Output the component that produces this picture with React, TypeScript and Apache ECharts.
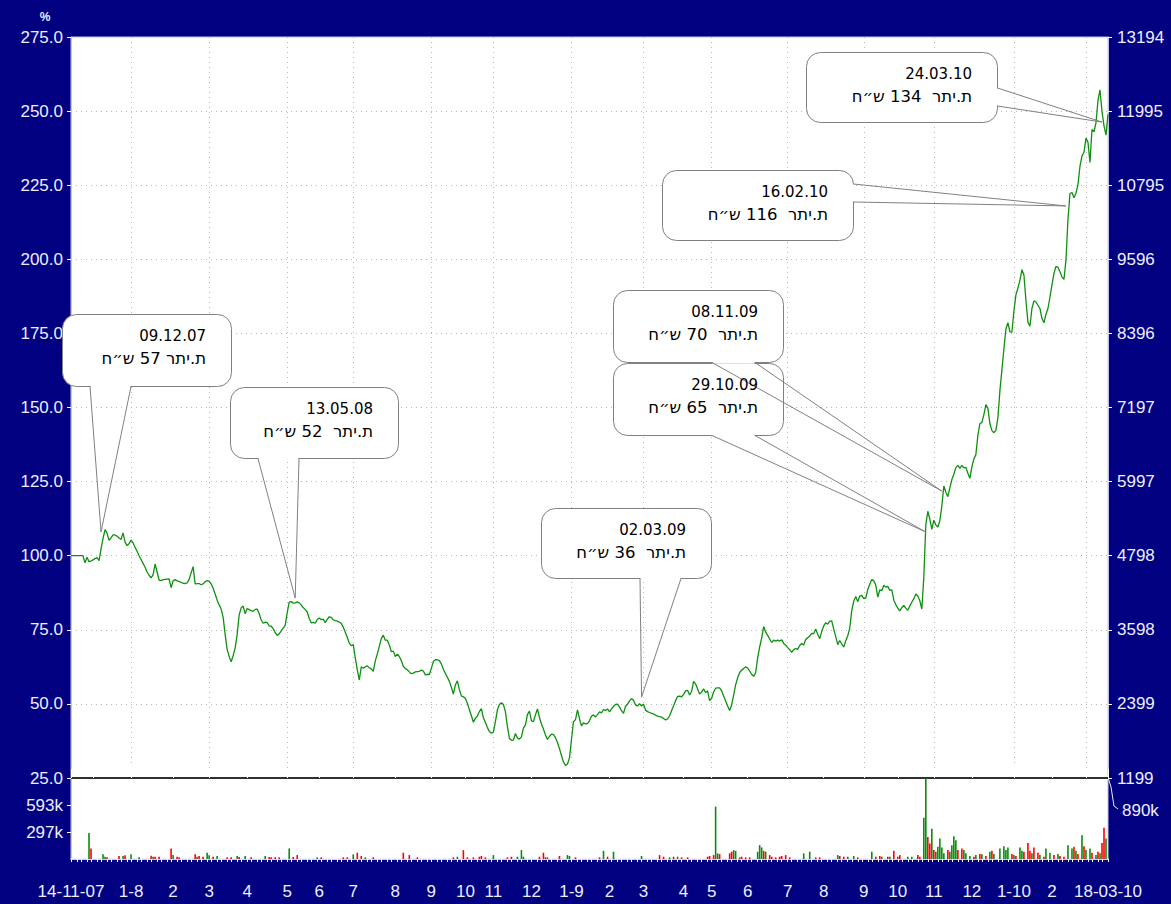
import React, { useEffect, useRef } from 'react';
import * as echarts from 'echarts';

// ---- price index (%), one reading every 2px of the reference, Nov-2007 .. Mar-2010 ----
const priceSeg1 = [100,100,100,100,100,100,100,97.6,99.5,98,98.2,98.6,99,99.4,98.3,102.3,105.8,108.8,107.6,105.2,106,107,107,106.6,106,105.5,107.7,104.6,103.4,104,105.3,104.3,102.8,101.5,100,98.7,97.4,96.1,94.5,93.4,92.5,93.5,97.2,94.5,91.8,91.6,91.9,92,92.1,92.2,89.2,91.5,92,91.5,91.3,91,90.7,90.6,90.8,92,94.2,96.3,90.5,90.6,90.6,90.2,90.5,91.2,91.6,91.4,90.5,89,87.1,85,83.4,82,79.2,73.4,68.4,66,64.2,66.3,68.9,73.4,80,82.4,83,80.4,82.2,81.8,81.5,81.2,81.9,82,80.5,78.3,77.2,77.6,77.4,76.3,76.2,75.4,74,73.1,73.6,74.6,75.6,76.5,80.8,84.3,84.5,84,84.1,84.4,84.1,83.4,82.5,81.8,81,78.8,77.3,77.5,77.2,78.5,79,78.4,78.6,77.4,78.5,79.4];
const priceSeg2 = [79.2,78.4,78.1,77.9,77.6,77.1,75.9,74.2,72.5,70.5,69.6,70,65.5,61.5,58.1,62.5,62,62.5,62.8,62.2,61.8,61,64.5,66.8,69.4,72,73.2,71.5,71.5,69.9,67.6,67.8,66,66.8,66,64.6,62.7,61.9,61.5,60.8,60.2,60.4,60.8,60.9,61,61.4,61.1,59.8,60,59.9,62,64.3,64.9,64.9,64.6,63.5,61.7,60.3,59,57.6,55.6,53.3,56.4,57.8,54.8,52.7,52.4,51.8,50.2,48,46,43.8,45.2,45.9,47.4,48.4,45.3,43.7,42,40.7,40.1,40.5,44,48,49.8,50.4,49.8,47.3,42.3,38.3,37.7,37.8,40,38.5,38.1,38.9,41.8,42.9,46.4,47.6,44.3,44,46.3,48.3,45.4,43.2,41.5,39.5,38,39,39.8,39.6,38.6,37,34.9,32.6,30.4,29.2,29.7,31.8,38,44,44.7,48,45,42.6,43.6,43.2,43.4,44.3];
const priceSeg3 = [45.8,46.3,45.6,46.4,47.3,47,48.1,47.8,48.3,47.3,48.3,49.2,49.8,49.9,48.9,47.7,46.8,49.2,49.9,51,51.8,51.2,49.6,49.3,50.1,49.3,49.9,47.9,47.4,47.1,46.8,46.6,46.2,45.9,45.7,45.5,45.1,44.6,44.9,46,47.7,49.4,51.1,52.5,52.6,52.4,53.2,54.4,54.6,53,54.2,57.6,56.7,55,53.3,54,55.1,53.8,54.4,51.1,51.9,54,55.3,55.4,55.4,54.4,52.7,51,49.3,47.8,49.6,53,56.4,58.8,60.6,61.4,61.9,62.5,62.1,61.1,60,59.3,60.5,65.5,69.2,72.2,76.1,74.2,73.1,71.9,70.7,71.5,71.2,71.5,71.2,71.6,70.4,69.8,69,68.3,67.4,68.3,68.7,68.4,69.7,70.4,69.9,71.7,72.3,72.9,73.8,73.7,75.3,73.5,72,74.4,76.3,77.4,76.9,77.9,78,75.2,72.7,70,71.4,70.2,69.2,71.3,73,75.5];
const priceSeg4 = [81.5,84.7,86.2,84.5,86.4,86.6,85.5,85.7,88.6,90.4,92,91.5,90.1,86,88.5,88.2,90,89.4,89.7,88.3,88.5,85,83.5,82.3,81.4,82.5,83.2,82.3,81.6,83,84.3,85.5,87.1,86.4,84.8,82,92.7,110.5,115,112.3,108.9,112,110.4,109.7,111.8,116.8,123.5,121.4,119.9,122.9,125.7,127.5,129.7,130.5,129.5,130.5,129.6,129.8,127.8,126.1,130,132.6,134.1,140.6,144.6,144.9,147.6,151,149.7,144.6,142.2,141.5,142.3,146.5,155.6,162.7,169.8,176.5,178.6,175.5,175.4,182.5,188,190.3,192.9,196.5,194.7,186.2,178.8,177.4,183.4,186,185.6,184.5,183.4,180.1,178.6,181.4,183.4,187.2,191.4,195.2,197.6,197.3,195.8,194.1,193.2,199.7,213.4,222.2,222.5,220.8,222.3,225.2,231.4,234.8,236.1,240.9,239.5,232.7,243.8,243,246.1,253.6,257.2,249.9,245,241.9,249];
const price = [...priceSeg1, ...priceSeg2, ...priceSeg3, ...priceSeg4];

// base index value: 100% = 4798 points
const baseIndexValue = 4798;

// ---- volume (thousands): [day index, volume] ----
const upVolume = [[9,286],[16,51],[17,25],[26,33],[30,51],[34,18],[41,25],[51,43],[63,25],[68,69],[69,40],[73,33],[83,33],[87,33],[97,33],[109,116],[123,18],[141,51],[147,18],[193,25],[211,43],[223,25],[225,98],[226,25],[237,18],[248,43],[249,33],[266,90],[271,80],[285,33],[299,18],[303,25],[322,575],[323,62],[331,98],[332,90],[343,80],[344,152],[345,127],[347,80],[366,62],[369,80],[383,43],[388,25],[391,33],[400,80],[405,25],[409,25],[418,25],[420,25],[426,452],[427,887],[430,333],[432,80],[433,134],[434,224],[435,127],[436,62],[439,80],[440,152],[441,250],[442,206],[446,98],[447,62],[449,33],[452,43],[455,51],[459,80],[461,54],[464,116],[466,141],[467,98],[468,127],[471,43],[474,127],[475,90],[480,62],[484,43],[487,116],[489,69],[493,54],[498,152],[500,116],[502,90],[505,260],[507,98],[509,116],[512,43],[514,62],[517,224]];
const downVolume = [[10,116],[18,18],[24,33],[27,40],[40,36],[42,25],[44,25],[50,116],[53,25],[54,18],[62,51],[64,33],[66,25],[71,25],[78,18],[80,18],[84,22],[90,18],[99,22],[100,18],[102,18],[104,18],[111,22],[113,43],[125,18],[136,18],[138,18],[143,69],[145,33],[151,18],[166,69],[169,43],[173,18],[191,18],[196,98],[198,18],[201,18],[204,25],[205,33],[207,18],[218,18],[220,25],[234,25],[236,69],[238,18],[244,33],[252,18],[264,18],[268,25],[294,43],[296,25],[301,25],[305,18],[308,18],[318,25],[319,33],[321,43],[324,54],[329,62],[330,80],[334,18],[335,25],[337,18],[339,18],[346,90],[349,43],[350,25],[352,18],[354,25],[355,33],[357,43],[359,18],[372,18],[374,18],[384,33],[386,25],[393,18],[402,25],[404,33],[408,25],[411,90],[413,25],[414,43],[423,43],[424,25],[428,243],[429,170],[431,98],[438,98],[443,98],[445,116],[451,25],[454,54],[457,33],[460,90],[470,54],[472,33],[476,80],[478,177],[479,90],[481,127],[483,69],[486,25],[491,43],[494,33],[496,25],[501,134],[503,54],[506,141],[510,69],[513,80],[515,177],[516,344]];
const volumeMax = 890;

// ---- x-axis: month starts [day index, label, month number] ----
const monthMarks: [number, string, number][] = [
  [11,'',12],[30,'1-8',1],[51,'2',2],[69,'3',3],[88,'4',4],[108,'5',5],[124,'6',6],[141,'7',7],[162,'8',8],[180,'9',9],[197,'10',10],[211,'11',11],[230,'12',12],
  [250,'1-9',1],[269,'2',2],[286,'3',3],[306,'4',4],[320,'5',5],[338,'6',6],[358,'7',7],[376,'8',8],[396,'9',9],[413,'10',10],[431,'11',11],[450,'12',12],
  [471,'1-10',1],[490,'2',2],[507,'',3],
];
const startLabel = '14-11-07';
const endLabel = '18-03-10';

// ---- callouts: [date, text, day index, value pointed at] ----
const callouts: [string, string, number, number][] = [
  ['09.12.07', 'ת.יתר 57 ש״ח', 15, 108],
  ['13.05.08', 'ת.יתר  52 ש״ח', 112, 85.7],
  ['02.03.09', 'ת.יתר  36 ש״ח', 285, 52.3],
  ['29.10.09', 'ת.יתר  65 ש״ח', 427, 108],
  ['08.11.09', 'ת.יתר  70 ש״ח', 435, 121.8],
  ['16.02.10', 'ת.יתר  116 ש״ח', 497, 218],
  ['24.03.10', 'ת.יתר  134 ש״ח', 515, 246.3],
];
const calloutLayout = [
  { x: 62, y: 314, w: 169, h: 72, side: 'bottom', b1: 90, b2: 131 },
  { x: 230, y: 387, w: 168, h: 71, side: 'bottom', b1: 258, b2: 299 },
  { x: 541, y: 508, w: 170, h: 70, side: 'bottom', b1: 640, b2: 681 },
  { x: 613, y: 363, w: 170, h: 72, side: 'bottom', b1: 712, b2: 755 },
  { x: 613, y: 290, w: 170, h: 72, side: 'bottom', b1: 712, b2: 755 },
  { x: 662, y: 170, w: 191, h: 70, side: 'right', b1: 184, b2: 202 },
  { x: 806, y: 52, w: 191, h: 70, side: 'right', b1: 88, b2: 106 },
];

const NAVY = '#000080';
const AXIS_TXT = '#eeeeff';
const AXIS_LINE = '#c0c0ee';
const FONT = '"Liberation Sans", Arial, sans-serif';
const CALLOUT_FONT = '"DejaVu Sans", sans-serif';

export default function App() {
  const ref = useRef<HTMLDivElement>(null);

  useEffect(() => {
    const chart = echarts.init(ref.current!, null, { renderer: 'svg' });
    const cats = price.map((_, i) => String(i));
    const labelMap = new Map<number, string>();
    labelMap.set(0, startLabel);
    monthMarks.forEach(([i, l]) => { if (l) labelMap.set(i, l); });
    labelMap.set(price.length - 1, endLabel);
    const monthSet = new Set<number>(monthMarks.map((m) => m[0]));
    monthSet.add(0);
    monthSet.add(price.length - 1);
    const yearSet = new Set<number>(monthMarks.filter((m) => m[2] === 1).map((m) => m[0]));
    const oddMonthSet = new Set<number>(monthMarks.filter((m) => m[2] % 2 === 1).map((m) => m[0]));
    const minorTick = (i: number) => i === 0 || Math.floor(i / 2.5) !== Math.floor((i - 1) / 2.5);

    const baseX = {
      type: 'category',
      data: cats,
      boundaryGap: false,
    };

    const option: any = {
      animation: false,
      backgroundColor: NAVY,
      grid: [
        { left: 71, top: 37, width: 1037, height: 741, show: true, backgroundColor: '#ffffff', borderColor: AXIS_LINE, borderWidth: 1 },
        { left: 71, top: 778, width: 1037, height: 81, show: true, backgroundColor: '#ffffff', borderColor: AXIS_LINE, borderWidth: 1 },
      ],
      xAxis: [
        {
          ...baseX, gridIndex: 0,
          axisLine: { show: true, onZero: false, lineStyle: { color: '#303030', width: 2 } },
          axisTick: { show: false }, axisLabel: { show: false },
          splitLine: { show: true, interval: (i: number) => oddMonthSet.has(i), lineStyle: { color: '#b8b8b8', type: [1, 4], width: 1 } },
        },
        {
          ...baseX, gridIndex: 1,
          axisLine: { show: true, onZero: false, lineStyle: { color: '#f4f4ff', width: 1.5 } },
          axisTick: { show: true, interval: minorTick, length: 3, lineStyle: { color: '#ffffff' } },
          axisLabel: {
            show: true, interval: (i: number) => labelMap.has(i),
            formatter: (_v: string, i: number) => labelMap.get(i) || '',
            color: AXIS_TXT, fontSize: 17, fontFamily: FONT, margin: 24,
          },
          splitLine: { show: false },
        },
        {
          ...baseX, gridIndex: 1,
          axisLine: { show: false, onZero: false },
          axisTick: { show: true, interval: (i: number) => monthSet.has(i), length: 9, lineStyle: { color: '#ffffff' } },
          axisLabel: { show: false }, splitLine: { show: false },
        },
        {
          ...baseX, gridIndex: 1,
          axisLine: { show: false, onZero: false },
          axisTick: { show: true, interval: (i: number) => yearSet.has(i), length: 14, lineStyle: { color: '#ffffff' } },
          axisLabel: { show: false }, splitLine: { show: false },
        },
      ],
      yAxis: [
        {
          type: 'value', gridIndex: 0, position: 'left', min: 25, max: 275, interval: 25,
          axisLine: { show: true, lineStyle: { color: AXIS_LINE } },
          axisTick: { show: true, length: 4, lineStyle: { color: '#ffffff' } },
          axisLabel: { color: AXIS_TXT, fontSize: 17, fontFamily: FONT, margin: 8, formatter: (v: number) => v.toFixed(1) },
          splitLine: { show: true, showMinLine: false, showMaxLine: false, lineStyle: { color: '#b8b8b8', type: [1, 4], width: 1 } },
        },
        {
          type: 'value', gridIndex: 0, position: 'right', min: 25, max: 275, interval: 25,
          axisLine: { show: true, lineStyle: { color: AXIS_LINE } },
          axisTick: { show: true, length: 4, lineStyle: { color: '#ffffff' } },
          axisLabel: { color: AXIS_TXT, fontSize: 17, fontFamily: FONT, margin: 9, formatter: (v: number) => String(Math.floor((v * baseIndexValue) / 100 + 1e-9)) },
          splitLine: { show: false },
        },
        {
          type: 'value', gridIndex: 1, position: 'left', min: 0, max: volumeMax, interval: volumeMax / 3,
          axisLine: { show: true, lineStyle: { color: AXIS_LINE } },
          axisTick: { show: true, length: 4, lineStyle: { color: '#ffffff' } },
          axisLabel: { color: AXIS_TXT, fontSize: 17, fontFamily: FONT, margin: 8, showMinLabel: false, showMaxLabel: false, formatter: (v: number) => Math.round(v) + 'k' },
          splitLine: { show: false },
        },
      ],
      series: [
        {
          type: 'line', xAxisIndex: 0, yAxisIndex: 0, data: price, symbol: 'none',
          lineStyle: { color: '#0f910f', width: 1.3 }, z: 3,
        },
        {
          type: 'bar', xAxisIndex: 1, yAxisIndex: 2, data: upVolume, barWidth: 1.6, barGap: '-100%',
          itemStyle: { color: '#0a8a0a' },
        },
        {
          type: 'bar', xAxisIndex: 1, yAxisIndex: 2, data: downVolume, barWidth: 1.6, barGap: '-100%',
          itemStyle: { color: '#ff0000' },
        },
      ],
    };
    chart.setOption(option);

    const els: any[] = [];
    els.push({ type: 'text', x: 45, y: 17, z: 100, style: { text: '%', fill: AXIS_TXT, fontSize: 12, fontFamily: FONT, fontWeight: 'bold', align: 'center', verticalAlign: 'middle' } });
    els.push({ type: 'polyline', z: 100, shape: { points: [[1108.5, 779], [1111, 787], [1114, 806], [1118, 809]] }, style: { stroke: '#e8e8ff', fill: 'none', lineWidth: 1 } });
    els.push({ type: 'text', x: 1122, y: 810, z: 100, style: { text: volumeMax + 'k', fill: AXIS_TXT, fontSize: 17, fontFamily: FONT, align: 'left', verticalAlign: 'middle' } });

    const boxes: any[] = [];
    const covers: any[] = [];
    const tails: any[] = [];
    const texts: any[] = [];
    callouts.forEach(([date, txt, idx, val], k) => {
      const L = calloutLayout[k];
      const tip = chart.convertToPixel({ xAxisIndex: 0, yAxisIndex: 0 }, [idx, val]) as number[];
      const bx = L.x + 0.5, by = L.y + 0.5;
      boxes.push({ type: 'rect', z: 100, shape: { x: bx, y: by, width: L.w, height: L.h, r: 14 }, style: { fill: '#ffffff', stroke: '#808080', lineWidth: 1 } });
      if (L.side === 'bottom') {
        const yb = by + L.h;
        covers.push({ type: 'line', z: 101, shape: { x1: L.b1 + 0.5, y1: yb, x2: L.b2 - 0.5, y2: yb }, style: { stroke: '#ffffff', lineWidth: 2.5 } });
        tails.push({ type: 'polyline', z: 102, shape: { points: [[L.b1, yb], [tip[0], tip[1]], [L.b2, yb]] }, style: { stroke: '#808080', fill: 'none', lineWidth: 1 } });
      } else {
        const xr = bx + L.w;
        covers.push({ type: 'line', z: 101, shape: { x1: xr, y1: L.b1 + 0.5, x2: xr, y2: L.b2 - 0.5 }, style: { stroke: '#ffffff', lineWidth: 2.5 } });
        tails.push({ type: 'polyline', z: 102, shape: { points: [[xr, L.b1], [tip[0], tip[1]], [xr, L.b2]] }, style: { stroke: '#808080', fill: 'none', lineWidth: 1 } });
      }
      const tx = L.x + L.w - 25;
      texts.push({ type: 'text', x: tx, y: L.y + 22, z: 103, style: { text: date, fill: '#000000', fontSize: 15, fontFamily: CALLOUT_FONT, align: 'right', verticalAlign: 'middle' } });
      texts.push({ type: 'text', x: tx, y: L.y + 44, z: 103, style: { text: txt, fill: '#000000', fontSize: 16.5, fontFamily: CALLOUT_FONT, align: 'right', verticalAlign: 'middle' } });
    });
    chart.setOption({ graphic: { elements: [...els, ...boxes, ...covers, ...tails, ...texts] } });

    return () => chart.dispose();
  }, []);

  return <div ref={ref} style={{ position: 'absolute', left: 0, top: 0, width: 1171, height: 904 }} />;
}
